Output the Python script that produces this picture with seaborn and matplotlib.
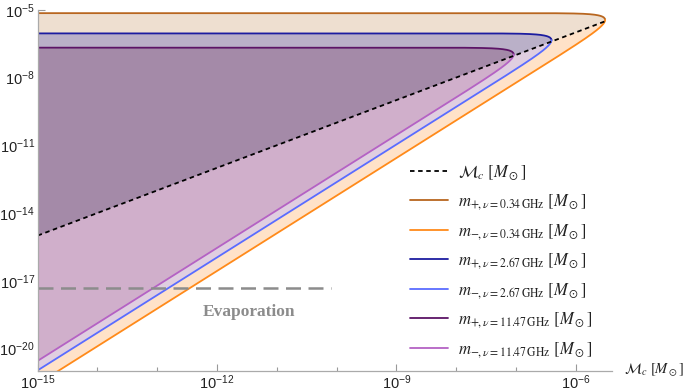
import numpy as np
import pandas as pd
import matplotlib
matplotlib.use("Agg")
import matplotlib.pyplot as plt
from matplotlib.ticker import FixedLocator, LogFormatterSciNotation, NullFormatter
from matplotlib.font_manager import FontProperties
from matplotlib.lines import Line2D
import seaborn as sns

# ---- data ----
freqs_ghz = [0.34, 2.67, 11.47]
freq_labels = ["0.34", "2.67", "11.47"]
total_mass = [7.1e-6, 9.0e-7, 2.1e-7]          # plateau of m_+ (total mass) per frequency
mc_range = [1e-15, 10 ** -5.4]
y_range = [1e-21, 1e-5]
evap_mass = 5.0e-18
evap_mc_span = [1e-15, 8e-11]
x_major = [1e-15, 1e-12, 1e-9, 1e-6]
y_major = [1e-20, 1e-17, 1e-14, 1e-11, 1e-8, 1e-5]

plus_colors = ["#B8661F", "#1C1CA0", "#5C1466"]
minus_colors = ["#FF8A1A", "#5A6CFF", "#B462C4"]
upper_fill = ["#EEDFD0", "#BAB0C8", "#A48AA8"]
lower_fill = ["#FFE2C8", "#E0CEE0", "#D0AFCB"]

sns.set_theme(style="ticks")
plt.rcParams["font.family"] = ["Liberation Sans", "DejaVu Sans"]
plt.rcParams["mathtext.fontset"] = "custom"
plt.rcParams["mathtext.rm"] = "Liberation Sans"
plt.rcParams["mathtext.it"] = "Liberation Sans:italic"
plt.rcParams["mathtext.bf"] = "Liberation Sans:bold"

fig = plt.figure(figsize=(6.85, 3.91), dpi=100)
ax = fig.add_axes([0.055, 0.051, 0.838, 0.924])
ax.set_xscale("log")
ax.set_yscale("log")

# symmetric mass ratio parametrisation of the component masses
eta = np.concatenate([np.geomspace(1e-19, 0.24, 900),
                      0.25 - np.geomspace(0.01, 1e-9, 400)])
frames = []
for i, (f, M) in enumerate(zip(freqs_ghz, total_mass)):
    root = np.sqrt(1 - 4 * eta)
    m_minus = 2 * eta * M / (1 + root)
    m_plus = M - m_minus
    mc = eta ** 0.6 * M
    ax.fill_between(mc, np.maximum(m_minus, mc), m_plus, color=upper_fill[i], lw=0, zorder=1 + i)
    ax.fill_between(mc, m_minus, np.maximum(m_minus, mc), color=lower_fill[i], lw=0, zorder=1 + i)
    frames.append(pd.DataFrame({"mc": mc, "m": m_plus, "curve": f"p{i}"}))
    frames.append(pd.DataFrame({"mc": mc, "m": m_minus, "curve": f"m{i}"}))

df = pd.concat(frames, ignore_index=True)
palette = {}
for i in range(3):
    palette[f"p{i}"] = plus_colors[i]
    palette[f"m{i}"] = minus_colors[i]
sns.lineplot(data=df, x="mc", y="m", hue="curve", palette=palette, estimator=None,
             sort=False, lw=1.3, legend=False, ax=ax, zorder=6)

# chirp-mass diagonal
mc_tip = 2 ** -1.2 * total_mass[0]
diag = pd.DataFrame({"x": [mc_range[0], mc_tip], "y": [mc_range[0], mc_tip]})
sns.lineplot(data=diag, x="x", y="y", color="black", lw=1.3, ax=ax, zorder=7,
             linestyle=(0, (2.5, 2.0)))

# evaporation line
evap = pd.DataFrame({"x": evap_mc_span, "y": [evap_mass, evap_mass]})
sns.lineplot(data=evap, x="x", y="y", color="#8C8C8C", lw=1.8, ax=ax, zorder=8,
             linestyle=(0, (6, 3)))
ax.text(3.4e-12, 10 ** -18.39, "Evaporation", color="#8C8C8C", fontsize=12.5,
        fontweight="bold", family=["Liberation Serif", "DejaVu Serif"],
        ha="center", va="center", zorder=9)

ax.set_xlim(*mc_range)
ax.set_ylim(*y_range)
ax.xaxis.set_major_locator(FixedLocator(x_major))
ax.yaxis.set_major_locator(FixedLocator(y_major))
ax.xaxis.set_minor_locator(FixedLocator([10.0 ** k for k in range(-15, -5)]))
ax.yaxis.set_minor_locator(FixedLocator([10.0 ** k for k in range(-21, -4)]))
ax.xaxis.set_major_formatter(LogFormatterSciNotation())
ax.yaxis.set_major_formatter(LogFormatterSciNotation())
ax.xaxis.set_minor_formatter(NullFormatter())
ax.yaxis.set_minor_formatter(NullFormatter())
ax.tick_params(which="both", direction="in", color="#999999", labelsize=10.5, labelcolor="#222222")
ax.tick_params(which="major", length=5, width=0.8)
ax.tick_params(which="minor", length=3, width=0.8)
ax.tick_params(axis="x", pad=2)
ax.tick_params(axis="y", pad=2)
for side in ["top", "right"]:
    ax.spines[side].set_visible(False)
for side in ["left", "bottom"]:
    ax.spines[side].set_color("#AAAAAA")
    ax.spines[side].set_linewidth(0.9)
    ax.spines[side].set_zorder(10)
ax.set_xlabel("")
ax.set_ylabel("")

mprop = FontProperties(family="DejaVu Serif", size=12, math_fontfamily="stix")
xprop = FontProperties(family="DejaVu Serif", size=10.5, math_fontfamily="stix")
ax.annotate(r"$\mathcal{M}_c\ [M_\odot]$", xy=(1.0, 0.0), xycoords="axes fraction",
            xytext=(9, 1), textcoords="offset points", ha="left", va="center",
            fontproperties=xprop, color="#222222")

handles = [Line2D([], [], color="black", lw=1.3, linestyle=(0, (2.5, 2.0)))]
labels = [r"$\mathcal{M}_c\ [M_\odot]$"]
for i, fl in enumerate(freq_labels):
    handles.append(Line2D([], [], color=plus_colors[i], lw=1.3))
    labels.append(r"$m_{+,\nu=" + fl + r"\,\mathrm{GHz}}\ [M_\odot]$")
    handles.append(Line2D([], [], color=minus_colors[i], lw=1.3))
    labels.append(r"$m_{-,\nu=" + fl + r"\,\mathrm{GHz}}\ [M_\odot]$")
leg = ax.legend(handles, labels, loc="upper left", bbox_to_anchor=(0.586, 0.603),
                bbox_transform=fig.transFigure, frameon=False, prop=mprop,
                handlelength=2.3, handletextpad=0.6, labelspacing=0.58, borderpad=0)
for t in leg.get_texts():
    t.set_color("#222222")

fig.savefig("out.png", dpi=100)
